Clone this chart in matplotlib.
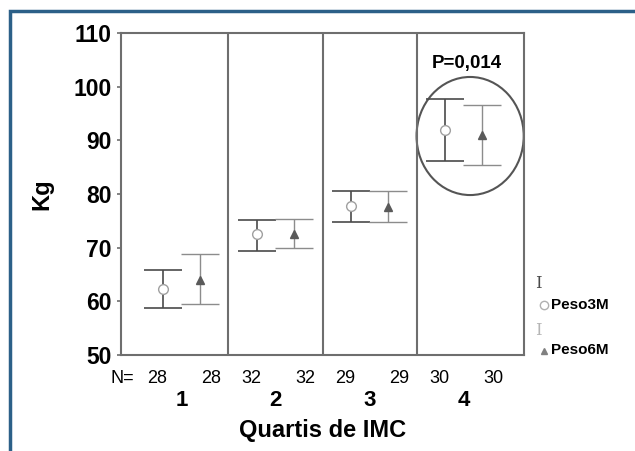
import matplotlib
matplotlib.use("Agg")
import matplotlib.pyplot as plt
from matplotlib.patches import Ellipse
from matplotlib.lines import Line2D

plt.rcParams['font.family'] = ['Liberation Sans', 'DejaVu Sans']

# data
quartis = ["1", "2", "3", "4"]
n_3m = [28, 32, 29, 30]
n_6m = [28, 32, 29, 30]
peso3m_mean = [62.3, 72.5, 77.8, 91.9]
peso3m_low = [58.8, 69.4, 74.8, 86.2]
peso3m_high = [65.8, 75.2, 80.5, 97.7]
peso6m_mean = [64.0, 72.6, 77.5, 91.0]
peso6m_low = [59.5, 70.0, 74.8, 85.4]
peso6m_high = [68.8, 75.4, 80.5, 96.6]
p_label = "P=0,014"

dark = "#4a4a4a"
light = "#8c8c8c"
frame = "#6e6e6e"

fig = plt.figure(figsize=(6.35, 4.51), dpi=100)
ax = fig.add_axes([0.1906, 0.2129, 0.6346, 0.714])

pos = list(range(1, len(quartis) + 1))
off = 0.2
x3 = [p - off for p in pos]
x6 = [p + off for p in pos]

err3 = [[m - l for m, l in zip(peso3m_mean, peso3m_low)],
        [h - m for m, h in zip(peso3m_mean, peso3m_high)]]
err6 = [[m - l for m, l in zip(peso6m_mean, peso6m_low)],
        [h - m for m, h in zip(peso6m_mean, peso6m_high)]]

ax.errorbar(x3, peso3m_mean, yerr=err3, fmt='none', ecolor=dark,
            elinewidth=1.2, capsize=14, capthick=1.2)
ax.errorbar(x6, peso6m_mean, yerr=err6, fmt='none', ecolor=light,
            elinewidth=1.0, capsize=14, capthick=1.0)
ax.plot(x3, peso3m_mean, 'o', ms=7, mfc='white', mec='#a0a0a0', mew=1.0, ls='none')
ax.plot(x6, peso6m_mean, '^', ms=6, mfc='#5a5a5a', mec='#5a5a5a', ls='none')

for p in pos[:-1]:
    ax.axvline(p + 0.5, color=frame, lw=1.5)

ax.set_xlim(0.357, len(quartis) + 0.643)
ax.set_ylim(50, 110)
ax.set_yticks(range(50, 111, 10))
ax.set_xticks([])
for s in ax.spines.values():
    s.set_color(frame)
    s.set_linewidth(1.5)
ax.tick_params(axis='y', length=3, width=1.2, color=frame, pad=4)
for t in ax.get_yticklabels():
    t.set_fontsize(16.5)
    t.set_fontweight('bold')

# N labels and quartile labels
ax.annotate("N=", (0.032, 0), xycoords='axes fraction', xytext=(0, -17),
            textcoords='offset points', ha='right', va='center', fontsize=13)
for p, a, b in zip(pos, n_3m, n_6m):
    ax.annotate(str(a), (p - 0.26, 0), xycoords=('data', 'axes fraction'),
                xytext=(0, -17), textcoords='offset points', ha='center', va='center', fontsize=13)
    ax.annotate(str(b), (p + 0.32, 0), xycoords=('data', 'axes fraction'),
                xytext=(0, -17), textcoords='offset points', ha='center', va='center', fontsize=13)
    ax.annotate(quartis[p - 1], (p, 0), xycoords=('data', 'axes fraction'),
                xytext=(0, -33), textcoords='offset points', ha='center', va='center',
                fontsize=16, fontweight='bold')

ax.set_xlabel("Quartis de IMC", fontsize=17, fontweight='bold', labelpad=46)
ax.set_ylabel("Kg", fontsize=17, fontweight='bold', labelpad=14)

# highlight of the last quartile
ax.add_patch(Ellipse((pos[-1] + 0.07, 90.8), 1.14, 22, fill=False, ec='#555555', lw=1.5, clip_on=False))
ax.text(pos[-1] + 0.04, 104.4, p_label, ha='center', va='center', fontsize=13.5, fontweight='bold')

# legend drawn by hand
fig.text(0.848, 0.372, "I", fontsize=12, family='DejaVu Serif', color=dark, ha='center', va='center')
fig.add_artist(Line2D([0.856], [0.324], marker='o', ms=6, mfc='white', mec='#b0b0b0', transform=fig.transFigure))
fig.text(0.868, 0.324, "Peso3M", fontsize=11, fontweight='bold', va='center',
         family=['Liberation Sans Narrow', 'Liberation Sans'])
fig.text(0.848, 0.268, "I", fontsize=12, family='DejaVu Serif', color='#b5b5b5', ha='center', va='center')
fig.add_artist(Line2D([0.856], [0.222], marker='^', ms=5, mfc='#808080', mec='#808080', transform=fig.transFigure))
fig.text(0.868, 0.224, "Peso6M", fontsize=11, fontweight='bold', va='center',
         family=['Liberation Sans Narrow', 'Liberation Sans'])

# blue corner border
border = "#2c6088"
fig.add_artist(Line2D([0.0157, 0.0157, 1.0], [0.0, 0.9756, 0.9756], color=border, lw=2.5,
                      transform=fig.transFigure, solid_joinstyle='miter'))

fig.savefig("out.png", dpi=100)
